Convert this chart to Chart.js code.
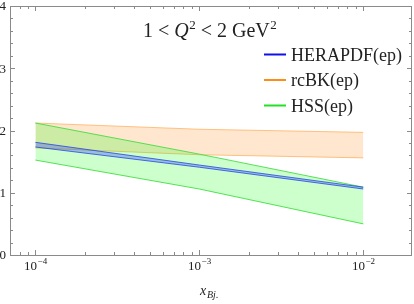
<!DOCTYPE html>
<html><head><meta charset="utf-8">
<script src="https://cdn.jsdelivr.net/npm/chart.js@4/dist/chart.umd.min.js"></script>
<style>html,body{margin:0;padding:0;background:#fff}#wrap{width:414px;height:304px;position:relative}</style>
</head><body><div id="wrap"><canvas id="c" width="414" height="304"></canvas></div>
<script>
// ---- data ----
const xValues = [1e-4, 1e-3, 1e-2];
const heraUpper = [1.81, 1.445, 1.09];
const heraLower = [1.735, 1.41, 1.06];
const rcbkUpper = [2.12, 2.02, 1.97];
const rcbkLower = [1.72, 1.61, 1.56];
const hssUpper = [2.12, 1.62, 1.09];
const hssLower = [1.525, 1.06, 0.50];
const xTickExps = [-4, -3, -2];
const yTickValues = [0, 1, 2, 3, 4];
const seriesNames = ['HERAPDF(ep)', 'rcBK(ep)', 'HSS(ep)'];
const seriesColors = ['#1010e8', '#ff8c1a', '#22e022'];
const titleText = ['1 < ', 'Q', '2', ' < 2 GeV', '2'];

const pts = arr => arr.map((v, i) => ({x: xValues[i], y: v}));
const SERIF = '"Liberation Serif", "DejaVu Serif", serif';

const band = (data, fill, border, bg) => ({
  data: pts(data), fill: fill, borderColor: border, backgroundColor: bg,
  borderWidth: 1, pointRadius: 0, tension: 0
});

const decor = {
  id: 'decor',
  afterDraw(chart) {
    const ctx = chart.ctx, a = chart.chartArea;
    const xs = chart.scales.x, ys = chart.scales.y;
    ctx.save();
    // frame
    ctx.strokeStyle = '#8a8a8a'; ctx.lineWidth = 1;
    ctx.strokeRect(a.left + 0.5, a.top + 0.5, a.right - a.left - 1, a.bottom - a.top);
    // x ticks
    ctx.beginPath();
    for (let e = -5; e <= -1; e++) {
      for (let m = 1; m <= 9; m++) {
        const v = m * Math.pow(10, e);
        if (v < xs.min || v > xs.max) continue;
        const px = Math.round(xs.getPixelForValue(v)) + 0.5;
        const len = m === 1 ? 5 : 3;
        ctx.moveTo(px, a.bottom); ctx.lineTo(px, a.bottom - len);
        ctx.moveTo(px, a.top); ctx.lineTo(px, a.top + len);
      }
    }
    // y ticks
    for (let k = 0; k <= 20; k++) {
      const v = k * 0.2;
      const py = Math.round(ys.getPixelForValue(v)) + 0.5;
      const len = (k % 5 === 0) ? 5 : 3;
      ctx.moveTo(a.left, py); ctx.lineTo(a.left + len, py);
      ctx.moveTo(a.right, py); ctx.lineTo(a.right - len, py);
    }
    ctx.stroke();
    // y tick labels
    ctx.fillStyle = '#222';
    ctx.font = '13px ' + SERIF;
    ctx.textAlign = 'right'; ctx.textBaseline = 'middle';
    yTickValues.forEach(v => ctx.fillText(String(v), a.left - 4, ys.getPixelForValue(v) + 1));
    // x tick labels
    ctx.textBaseline = 'alphabetic'; ctx.textAlign = 'left';
    xTickExps.forEach(e => {
      const px = xs.getPixelForValue(Math.pow(10, e));
      ctx.font = '13px ' + SERIF;
      const w1 = ctx.measureText('10').width;
      ctx.font = '9px ' + SERIF;
      const sup = '\u2212' + Math.abs(e);
      const w2 = ctx.measureText(sup).width;
      const x0 = px - (w1 + w2) / 2;
      ctx.font = '13px ' + SERIF;
      ctx.fillText('10', x0, 270);
      ctx.font = '9px ' + SERIF;
      ctx.fillText(sup, x0 + w1 + 0.5, 264);
    });
    // x axis label
    ctx.font = 'italic 14px ' + SERIF;
    ctx.fillText('x', 200, 295);
    ctx.font = 'italic 10px ' + SERIF;
    ctx.fillText('Bj.', 207, 298);
    // title
    let tx = 143; const tb = 37;
    ctx.font = '20px ' + SERIF; ctx.fillText(titleText[0], tx, tb); tx += ctx.measureText(titleText[0]).width;
    ctx.font = 'italic 20px ' + SERIF; ctx.fillText(titleText[1], tx, tb); tx += ctx.measureText(titleText[1]).width;
    ctx.font = '13px ' + SERIF; ctx.fillText(titleText[2], tx + 0.5, tb - 8); tx += ctx.measureText(titleText[2]).width + 0.5;
    ctx.font = '20px ' + SERIF; ctx.fillText(titleText[3], tx, tb); tx += ctx.measureText(titleText[3]).width;
    ctx.font = '13px ' + SERIF; ctx.fillText(titleText[4], tx + 0.5, tb - 8);
    // legend
    seriesNames.forEach((n, i) => {
      const ly = 54.5 + i * 25.5;
      ctx.strokeStyle = seriesColors[i]; ctx.lineWidth = 2;
      ctx.beginPath(); ctx.moveTo(264, ly); ctx.lineTo(286, ly); ctx.stroke();
      ctx.fillStyle = '#222'; ctx.font = '18px ' + SERIF;
      ctx.fillText(n, 291, ly + 6);
    });
    ctx.restore();
  }
};

new Chart(document.getElementById('c'), {
  type: 'line',
  data: {
    datasets: [
      band(heraUpper, '+1', 'rgba(30,60,230,0.75)', 'rgba(40,60,255,0.32)'),
      band(heraLower, false, 'rgba(30,60,230,0.75)', 'rgba(0,0,0,0)'),
      band(hssUpper, '+1', 'rgba(60,220,60,0.85)', 'rgba(0,255,0,0.2)'),
      band(hssLower, false, 'rgba(60,220,60,0.85)', 'rgba(0,0,0,0)'),
      band(rcbkUpper, '+1', 'rgba(255,160,60,0.6)', 'rgba(255,140,30,0.22)'),
      band(rcbkLower, false, 'rgba(255,160,60,0.6)', 'rgba(0,0,0,0)')
    ]
  },
  options: {
    responsive: false, animation: false,
    layout: {padding: {left: 10, right: 2, top: 6, bottom: 49}},
    plugins: {legend: {display: false}, tooltip: {enabled: false}},
    scales: {
      x: {type: 'logarithmic', min: 7.01e-5, max: 0.01982, display: false},
      y: {type: 'linear', min: 0, max: 4, display: false}
    }
  },
  plugins: [decor]
});
</script></body></html>
